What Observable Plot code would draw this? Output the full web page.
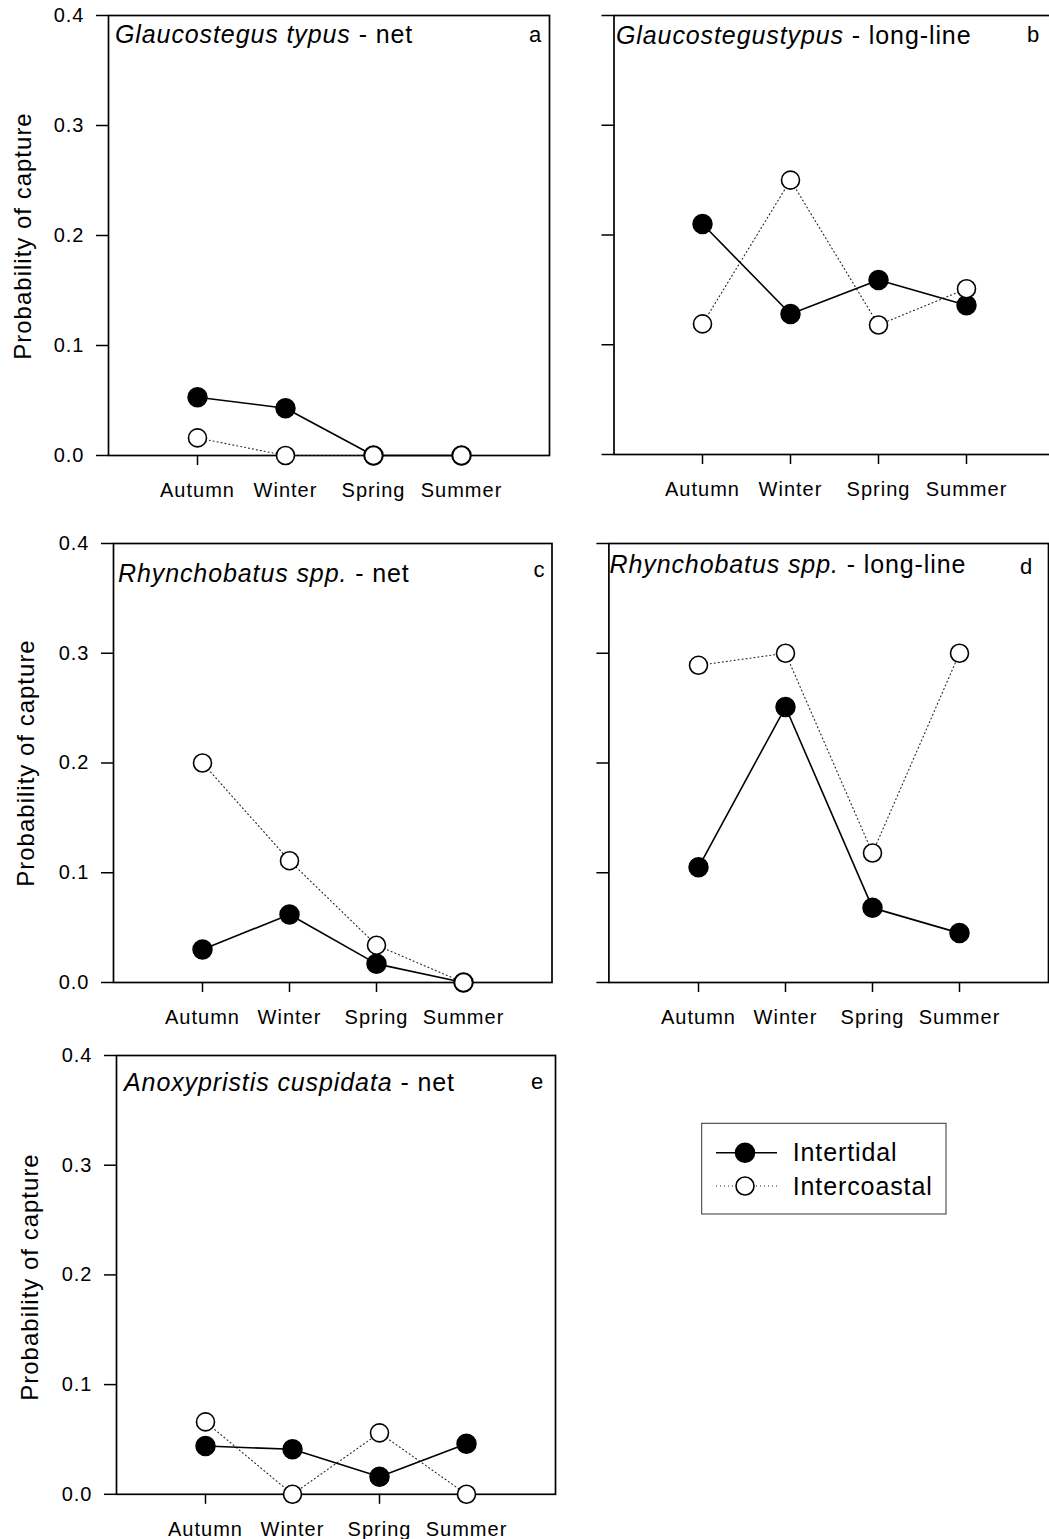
<!DOCTYPE html>
<html>
<head>
<meta charset="utf-8">
<script src="https://cdn.jsdelivr.net/npm/d3@7"></script>
<script src="https://cdn.jsdelivr.net/npm/@observablehq/plot@0.6"></script>
<style>
  body { margin: 0; background: #fff; }
  #page { position: relative; width: 1049px; height: 1539px; overflow: hidden; background: #fff;
          font-family: "Liberation Sans", Arial, sans-serif; color: #000; }
  .panel { position: absolute; }
  .title { position: absolute; font-size: 25px; letter-spacing: 0.9px; white-space: nowrap; line-height: 1; transform: translateY(-50%); }
  .plab { position: absolute; font-size: 22px; line-height: 1; transform: translate(-50%, -50%); }
  .ylab { position: absolute; font-size: 24px; letter-spacing: 1px; white-space: nowrap; line-height: 1;
          transform: translate(-50%, -50%) rotate(-90deg); }
</style>
</head>
<body>
<div id="page"></div>
<script>
// ---- data ----
const seasons = ["Autumn", "Winter", "Spring", "Summer"];
const yTicks = [0, 0.1, 0.2, 0.3, 0.4];
const seriesNames = ["Intertidal", "Intercoastal"];
const yLabel = "Probability of capture";

const aIntertidal   = [0.053, 0.043, 0.000, 0.000];
const aIntercoastal = [0.016, 0.000, 0.000, 0.000];
const bIntertidal   = [0.210, 0.128, 0.159, 0.136];
const bIntercoastal = [0.119, 0.250, 0.118, 0.151];
const cIntertidal   = [0.030, 0.062, 0.017, 0.000];
const cIntercoastal = [0.200, 0.111, 0.034, 0.000];
const dIntertidal   = [0.105, 0.251, 0.068, 0.045];
const dIntercoastal = [0.289, 0.300, 0.118, 0.300];
const eIntertidal   = [0.044, 0.041, 0.016, 0.046];
const eIntercoastal = [0.066, 0.000, 0.056, 0.000];

const titleSpecies = ["Glaucostegus typus", "Glaucostegustypus", "Rhynchobatus spp.", "Rhynchobatus spp.", "Anoxypristis cuspidata"];
const titleGear = [" - net", " - long-line", " - net", " - long-line", " - net"];
const panelLetters = ["a", "b", "c", "d", "e"];

// ---- layout ----
const page = document.getElementById("page");
const layouts = [
  {x0: 108,   x1: 549,    y0: 15,    y1: 455,    left: 0,   labels: true,  tx: 115,   ty: 34,   lx: 535,  ly: 35,   yx: 23,   yy: 236},
  {x0: 613.5, x1: 1053.5, y0: 15,    y1: 454,    left: 520, labels: false, tx: 616,   ty: 35,   lx: 1033, ly: 35},
  {x0: 113,   x1: 551.5,  y0: 542.7, y1: 981.7,  left: 0,   labels: true,  tx: 118,   ty: 573,  lx: 539,  ly: 570,  yx: 26,   yy: 762.5},
  {x0: 608.4, x1: 1048,   y0: 542.7, y1: 981.7,  left: 520, labels: false, tx: 609.5, ty: 564,  lx: 1026, ly: 567},
  {x0: 116,   x1: 555,    y0: 1054.5, y1: 1493.3, left: 0,  labels: true,  tx: 124,   ty: 1082, lx: 537,  ly: 1082, yx: 29.5, yy: 1277}
];
const panelData = [
  [aIntertidal, aIntercoastal],
  [bIntertidal, bIntercoastal],
  [cIntertidal, cIntercoastal],
  [dIntertidal, dIntercoastal],
  [eIntertidal, eIntercoastal]
];

function makePanel(i) {
  const L = layouts[i];
  const [tid, coast] = panelData[i];
  const tidal = seasons.map((s, k) => ({season: s, v: tid[k]}));
  const coastal = seasons.map((s, k) => ({season: s, v: coast[k]}));
  const mT = 15, mB = 60, mR = 10;
  const mL = L.x0 - L.left;
  const width = Math.round(L.x1 - L.left + mR);
  const height = Math.round(L.y1 - L.y0 + mT + mB);
  const chart = Plot.plot({
    width, height,
    marginLeft: mL, marginRight: width - (L.x1 - L.left), marginTop: mT, marginBottom: height - mT - (L.y1 - L.y0),
    x: {type: "point", domain: seasons, padding: 1, axis: null},
    y: {domain: [0, 0.4], axis: null},
    style: {fontFamily: '"Liberation Sans", Arial, sans-serif', fontSize: "20px", letterSpacing: "1px", color: "#000", background: "transparent", overflow: "visible"},
    marks: [
      Plot.frame({stroke: "#000", strokeWidth: 1.7}),
      Plot.axisY({ticks: yTicks, tickSize: 12, tickPadding: 12, strokeWidth: 1.5,
                  tickFormat: L.labels ? d3.format(".1f") : () => "", label: null}),
      Plot.axisX({tickSize: 10, tickPadding: 17, strokeWidth: 1.5, label: null}),
      Plot.line(coastal, {x: "season", y: "v", stroke: "#222", strokeWidth: 1.1, strokeDasharray: "1,3"}),
      Plot.line(tidal, {x: "season", y: "v", stroke: "#000", strokeWidth: 1.6}),
      Plot.dot(tidal, {x: "season", y: "v", r: 9.5, fill: "#000", stroke: "#000"}),
      Plot.dot(coastal, {x: "season", y: "v", r: 9, fill: "#fff", stroke: "#000", strokeWidth: 1.6})
    ]
  });
  chart.classList.add("panel");
  chart.style.left = L.left + "px";
  chart.style.top = (L.y0 - mT) + "px";
  page.appendChild(chart);

  const t = document.createElement("div");
  t.className = "title";
  t.style.left = L.tx + "px";
  t.style.top = L.ty + "px";
  const it = document.createElement("i");
  it.textContent = titleSpecies[i];
  t.appendChild(it);
  t.appendChild(document.createTextNode(titleGear[i]));
  page.appendChild(t);

  const p = document.createElement("div");
  p.className = "plab";
  p.style.left = L.lx + "px";
  p.style.top = L.ly + "px";
  p.textContent = panelLetters[i];
  page.appendChild(p);

  if (L.labels) {
    const y = document.createElement("div");
    y.className = "ylab";
    y.style.left = L.yx + "px";
    y.style.top = L.yy + "px";
    y.textContent = yLabel;
    page.appendChild(y);
  }
}
for (let i = 0; i < 5; i++) makePanel(i);

// ---- legend ----
const leg = d3.select(page).append("svg")
  .attr("width", 270).attr("height", 120)
  .style("position", "absolute").style("left", "690px").style("top", "1110px")
  .style("font-family", '"Liberation Sans", Arial, sans-serif');
leg.append("rect").attr("x", 11.7).attr("y", 13.3).attr("width", 244.3).attr("height", 90.7)
  .attr("fill", "none").attr("stroke", "#333").attr("stroke-width", 1);
const rows = [
  {y: 42.7, dash: null, sw: 1.6, fill: "#000", r: 9.5},
  {y: 76, dash: "1,3", sw: 1.1, fill: "#fff", r: 9}
];
rows.forEach((row, k) => {
  const ln = leg.append("line").attr("x1", 26).attr("x2", 87).attr("y1", row.y).attr("y2", row.y)
    .attr("stroke", k ? "#222" : "#000").attr("stroke-width", row.sw);
  if (row.dash) ln.attr("stroke-dasharray", row.dash);
  leg.append("circle").attr("cx", 55).attr("cy", row.y).attr("r", row.r)
    .attr("fill", row.fill).attr("stroke", "#000").attr("stroke-width", 1.6);
  leg.append("text").attr("x", 102.7).attr("y", row.y).attr("dy", "0.35em")
    .attr("font-size", 25).style("letter-spacing", "0.9px").text(seriesNames[k]);
});
</script>
</body>
</html>
